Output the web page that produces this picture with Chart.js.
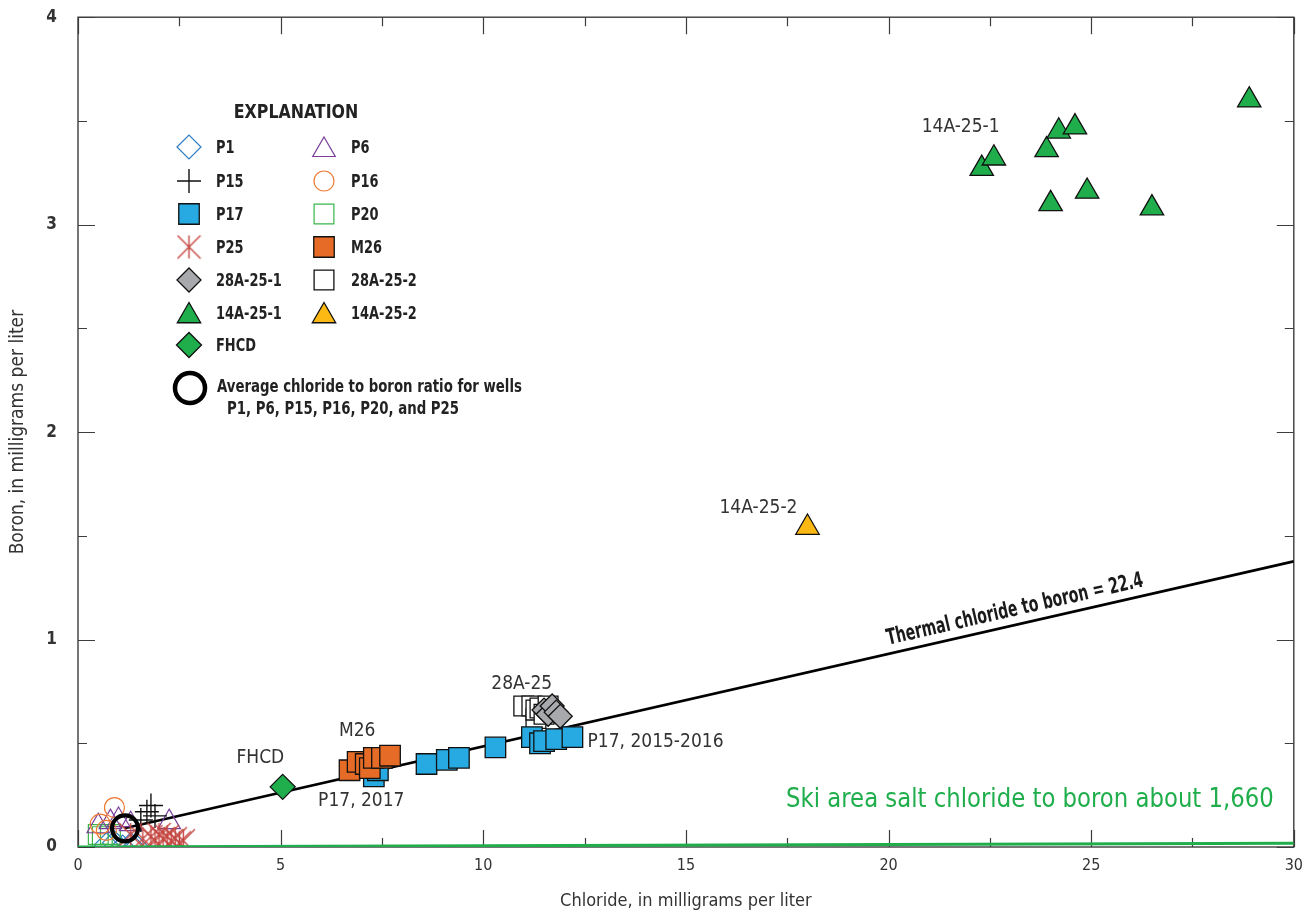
<!DOCTYPE html>
<html>
<head>
<meta charset="utf-8">
<script src="https://cdn.jsdelivr.net/npm/chart.js@4.4.1/dist/chart.umd.min.js"></script>
<style>
  html, body { margin: 0; padding: 0; background: #ffffff; }
  canvas { display: block; }
</style>
</head>
<body>
<canvas id="chart" width="1311" height="913"></canvas>
<script>
// Chloride (x, mg/L) and boron (y, mg/L) pairs for each well or source
const p1    = [[0.7, 0.01], [0.9, 0.02], [1.1, 0.0], [1.3, 0.01], [1.45, 0.0]];
const p6    = [[0.5, 0.10], [0.8, 0.12], [1.0, 0.13], [1.3, 0.11], [2.25, 0.12]];
const p15   = [[1.55, 0.13], [1.7, 0.17], [1.8, 0.20], [1.9, 0.15]];
const p16   = [[0.55, 0.11], [0.7, 0.08], [0.9, 0.19]];
const p17   = [[7.3, 0.34], [7.4, 0.37], [8.6, 0.40], [9.1, 0.42], [9.4, 0.43], [10.3, 0.48],
               [11.2, 0.53], [11.4, 0.50], [11.5, 0.51], [11.8, 0.52], [12.2, 0.53]];
const p20   = [[0.5, 0.06], [0.6, 0.05], [0.8, 0.06]];
const p25   = [[1.3, 0.06], [1.6, 0.04], [1.8, 0.05], [1.9, 0.03], [2.0, 0.06], [2.1, 0.04],
               [2.2, 0.05], [2.3, 0.03], [2.4, 0.04], [2.5, 0.02], [2.6, 0.03]];
const m26   = [[6.7, 0.37], [6.9, 0.41], [7.1, 0.40], [7.2, 0.38], [7.3, 0.43], [7.5, 0.43], [7.7, 0.44]];
const w28a1 = [[11.5, 0.66], [11.6, 0.64], [11.7, 0.68], [11.8, 0.65], [11.9, 0.63]];
const w28a2 = [[11.0, 0.68], [11.2, 0.68], [11.3, 0.62], [11.3, 0.66], [11.4, 0.67], [11.5, 0.64], [11.6, 0.68]];
const w14a1 = [[22.3, 3.27], [22.6, 3.32], [23.9, 3.36], [24.2, 3.45], [24.6, 3.47], [28.9, 3.60],
               [24.0, 3.10], [24.9, 3.16], [26.5, 3.08]];
const w14a2 = [[18.0, 1.54]];
const fhcd  = [[5.05, 0.29]];
const avgRatio = [[1.16, 0.09]];

// Reference ratio lines
const thermalLine = [[1.15, 0.09], [30, 1.377]];
const skiLine     = [[0, 0], [30, 0.018]];

// Axis tick values
const xTicks = [0, 5, 10, 15, 20, 25, 30];
const yTicks = [0, 1, 2, 3, 4];

// Text placed on the plot
const siteLabels = [
  { text: '14A-25-1',       at: [21.78, 3.47] },
  { text: '14A-25-2',       at: [16.79, 1.635] },
  { text: '28A-25',         at: [10.95, 0.787] },
  { text: 'M26',            at: [6.89, 0.561] },
  { text: 'FHCD',           at: [4.5, 0.427] },
  { text: 'P17, 2017',      at: [6.99, 0.221] },
  { text: 'P17, 2015-2016', at: [14.25, 0.508] }
];
const thermalText = 'Thermal chloride to boron = 22.4';
const skiText = 'Ski area salt chloride to boron about 1,660';

const FONT = "'Liberation Sans Narrow', 'Arial Narrow', 'DejaVu Sans Condensed', sans-serif";
const GREEN = '#1fae4b';

// Six-armed asterisk used for P25
function asterisk(size, color) {
  const c = document.createElement('canvas');
  c.width = size; c.height = size;
  const g = c.getContext('2d');
  g.strokeStyle = color;
  g.lineWidth = 1.4;
  const m = 1;
  g.beginPath();
  g.moveTo(m, m); g.lineTo(size - m, size - m);
  g.moveTo(size - m, m); g.lineTo(m, size - m);
  g.moveTo(size / 2, m); g.lineTo(size / 2, size - m);
  g.stroke();
  return c;
}
const p25Star = asterisk(25, '#c4453f');

const toPts = arr => arr.map(([x, y]) => ({ x, y }));

function series(label, data, style, order) {
  return Object.assign({
    label, data: toPts(data), order,
    showLine: false,
    pointHoverRadius: style.pointRadius,
    pointHoverBorderWidth: style.pointBorderWidth
  }, style);
}

const outline = (shape, color, r) => ({
  pointStyle: shape, pointRadius: r, pointBackgroundColor: 'rgba(0,0,0,0)',
  pointBorderColor: color, pointBorderWidth: 1.2
});
const filled = (shape, color, r) => ({
  pointStyle: shape, pointRadius: r, pointBackgroundColor: color,
  pointBorderColor: '#111', pointBorderWidth: 1.3
});

const styles = {
  'P1':       outline('rectRot', '#2b7bc2', 12),
  'P6':       outline('triangle', '#7a3f98', 13),
  'P15':      { pointStyle: 'cross', pointRadius: 12, pointBorderColor: '#111', pointBorderWidth: 1.4, pointBackgroundColor: '#111' },
  'P16':      outline('circle', '#ef7b35', 10),
  'P17':      filled('rect', '#27aae1', 14.5),
  'P20':      outline('rect', '#3bb54a', 14),
  'P25':      { pointStyle: p25Star, pointRadius: 12, pointBorderWidth: 0 },
  'M26':      filled('rect', '#e66b26', 14.5),
  '28A-25-1': filled('rectRot', '#a8a9ad', 12),
  '28A-25-2': filled('rect', '#ffffff', 14),
  '14A-25-1': filled('triangle', GREEN, 13.5),
  '14A-25-2': filled('triangle', '#fdb913', 13.5),
  'FHCD':     filled('rectRot', GREEN, 12.5)
};

const datasets = [
  series('P1', p1, styles['P1'], 12),
  series('P20', p20, styles['P20'], 11),
  series('P6', p6, styles['P6'], 10),
  series('P16', p16, styles['P16'], 9),
  series('P15', p15, styles['P15'], 8),
  series('P25', p25, styles['P25'], 3),
  series('28A-25-2', w28a2, styles['28A-25-2'], 7),
  series('28A-25-1', w28a1, styles['28A-25-1'], 6),
  series('P17', p17, styles['P17'], 5),
  series('M26', m26, styles['M26'], 4),
  series('14A-25-1', w14a1, styles['14A-25-1'], 13),
  series('14A-25-2', w14a2, styles['14A-25-2'], 13),
  series('FHCD', fhcd, styles['FHCD'], 13),
  {
    label: 'Average ratio', data: toPts(avgRatio), order: 2, showLine: false,
    pointStyle: 'circle', pointRadius: 13, pointBorderWidth: 4.2,
    pointBorderColor: '#000', pointBackgroundColor: 'rgba(0,0,0,0)', pointHoverRadius: 13
  },
  {
    label: 'Thermal', data: toPts(thermalLine), order: 14, showLine: true,
    borderColor: '#000', borderWidth: 2.6, pointRadius: 0, pointHoverRadius: 0, fill: false
  },
  {
    label: 'Ski', data: toPts(skiLine), order: 1, showLine: true,
    borderColor: GREEN, borderWidth: 3, pointRadius: 0, pointHoverRadius: 0, fill: false
  }
];

// Frame with inward major/minor ticks on all four sides
const framePlugin = {
  id: 'frame',
  beforeDatasetsDraw(chart) {
    const { ctx, chartArea: a, scales: { x, y } } = chart;
    ctx.save();
    ctx.strokeStyle = '#3c3c3c';
    ctx.lineWidth = 1.4;
    ctx.strokeRect(a.left, a.top, a.right - a.left, a.bottom - a.top);
    ctx.lineWidth = 1.2;
    ctx.beginPath();
    for (let v = 0; v <= 30.001; v += 2.5) {
      const px = Math.round(x.getPixelForValue(v)) + 0.5;
      const len = (Math.abs(v % 5) < 1e-6) ? 17 : 9;
      ctx.moveTo(px, a.bottom); ctx.lineTo(px, a.bottom - len);
      ctx.moveTo(px, a.top); ctx.lineTo(px, a.top + len);
    }
    for (let v = 0; v <= 4.001; v += 0.5) {
      const py = Math.round(y.getPixelForValue(v)) + 0.5;
      const len = (Math.abs(v % 1) < 1e-6) ? 17 : 9;
      ctx.moveTo(a.left, py); ctx.lineTo(a.left + len, py);
      ctx.moveTo(a.right, py); ctx.lineTo(a.right - len, py);
    }
    ctx.stroke();
    ctx.restore();
  }
};

function drawMarker(ctx, style, px, py) {
  ctx.save();
  ctx.fillStyle = style.pointBackgroundColor || 'rgba(0,0,0,0)';
  ctx.strokeStyle = style.pointBorderColor || '#000';
  ctx.lineWidth = style.pointBorderWidth || 0;
  Chart.helpers.drawPoint(ctx, {
    pointStyle: style.pointStyle, radius: style.pointRadius, rotation: 0,
    borderWidth: style.pointBorderWidth || 0
  }, px, py);
  ctx.restore();
}

// Draws text squeezed horizontally by a factor, as with a condensed face
function narrowText(ctx, text, x, y, squeeze) {
  ctx.save();
  ctx.translate(x, y);
  ctx.scale(squeeze, 1);
  ctx.fillText(text, 0, 0);
  ctx.restore();
}

// Text, the explanation box and the ratio-line captions
const notesPlugin = {
  id: 'notes',
  afterDatasetsDraw(chart) {
    const { ctx, scales: { x, y }, chartArea: a } = chart;
    ctx.save();

    // site labels
    ctx.fillStyle = '#333333';
    ctx.font = '19px ' + FONT;
    ctx.textAlign = 'center';
    ctx.textBaseline = 'middle';
    siteLabels.forEach(l => {
      ctx.fillText(l.text, x.getPixelForValue(l.at[0]), y.getPixelForValue(l.at[1]));
    });

    // thermal ratio caption, set along the line
    const [p0, p1e] = thermalLine;
    const x0 = x.getPixelForValue(p0[0]), y0 = y.getPixelForValue(p0[1]);
    const x1 = x.getPixelForValue(p1e[0]), y1 = y.getPixelForValue(p1e[1]);
    const ang = Math.atan2(y1 - y0, x1 - x0);
    const t = (x.getPixelForValue(23.2) - x0) / (x1 - x0);
    const cx = x0 + t * (x1 - x0), cy = y0 + t * (y1 - y0);
    ctx.save();
    ctx.translate(cx, cy);
    ctx.rotate(ang);
    ctx.fillStyle = '#1a1a1a';
    ctx.font = 'bold 22px ' + FONT;
    ctx.textAlign = 'center';
    ctx.textBaseline = 'alphabetic';
    narrowText(ctx, thermalText, 0, -9, 0.71);
    ctx.restore();

    // ski area caption
    ctx.fillStyle = GREEN;
    ctx.font = '26px ' + FONT;
    ctx.textAlign = 'right';
    ctx.textBaseline = 'middle';
    narrowText(ctx, skiText, a.right - 20, a.bottom - 47, 0.975);

    // explanation
    ctx.fillStyle = '#222222';
    ctx.font = 'bold 20px ' + FONT;
    ctx.textAlign = 'center';
    narrowText(ctx, 'EXPLANATION', 296, 113, 0.88);

    const rows = [
      ['P1', 'P6'], ['P15', 'P16'], ['P17', 'P20'], ['P25', 'M26'],
      ['28A-25-1', '28A-25-2'], ['14A-25-1', '14A-25-2'], ['FHCD', null]
    ];
    const rowY = [147, 181, 214, 247, 280, 313, 345];
    const cols = [{ m: 189, t: 216 }, { m: 324, t: 351 }];
    ctx.font = 'bold 18px ' + FONT;
    ctx.textAlign = 'left';
    rows.forEach((row, i) => {
      row.forEach((name, j) => {
        if (!name) return;
        const st = styles[name];
        let my = rowY[i];
        if (st.pointStyle === 'triangle') my += 3;
        drawMarker(ctx, st, cols[j].m, my);
        ctx.fillStyle = '#222222';
        narrowText(ctx, name, cols[j].t, rowY[i] + 1, 0.8);
      });
    });

    ctx.beginPath();
    ctx.lineWidth = 4.5;
    ctx.strokeStyle = '#000';
    ctx.arc(190, 388, 15, 0, Math.PI * 2);
    ctx.stroke();
    ctx.fillStyle = '#222222';
    ctx.font = 'bold 17px ' + FONT;
    narrowText(ctx, 'Average chloride to boron ratio for wells', 217, 388, 0.87);
    narrowText(ctx, 'P1, P6, P15, P16, P20, and P25', 227, 410, 0.87);

    ctx.restore();
  }
};

Chart.defaults.font.family = FONT;
Chart.defaults.color = '#333333';

// Keeps the plot box where the layout padding puts it
const noLabelPadding = s => {
  s.paddingTop = 0; s.paddingBottom = 0; s.paddingLeft = 0; s.paddingRight = 0;
};

new Chart(document.getElementById('chart'), {
  type: 'scatter',
  data: { datasets },
  options: {
    responsive: false,
    devicePixelRatio: 1,
    animation: false,
    events: [],
    layout: { padding: { top: 13, right: 11, bottom: 0, left: 0 } },
    plugins: { legend: { display: false }, tooltip: { enabled: false } },
    scales: {
      x: {
        type: 'linear', min: 0, max: 30,
        afterBuildTicks: s => { s.ticks = xTicks.map(v => ({ value: v })); },
        afterFit: s => { s.height = 66; noLabelPadding(s); },
        grid: { display: false, drawTicks: false },
        border: { display: false },
        ticks: { padding: 9, font: { size: 16 }, color: '#333333' },
        title: {
          display: true, text: 'Chloride, in milligrams per liter',
          font: { size: 18 }, color: '#333333', padding: { top: 0, bottom: 1 }
        }
      },
      y: {
        type: 'linear', min: 0, max: 4,
        afterBuildTicks: s => { s.ticks = yTicks.map(v => ({ value: v })); },
        afterFit: s => { s.width = 78; noLabelPadding(s); },
        grid: { display: false, drawTicks: false },
        border: { display: false },
        ticks: { padding: 21, font: { size: 17, weight: 'bold' }, color: '#333333' },
        title: {
          display: true, text: 'Boron, in milligrams per liter',
          font: { size: 19 }, color: '#333333', padding: { top: 7, bottom: 0 }
        }
      }
    }
  },
  plugins: [framePlugin, notesPlugin]
});
</script>
</body>
</html>
